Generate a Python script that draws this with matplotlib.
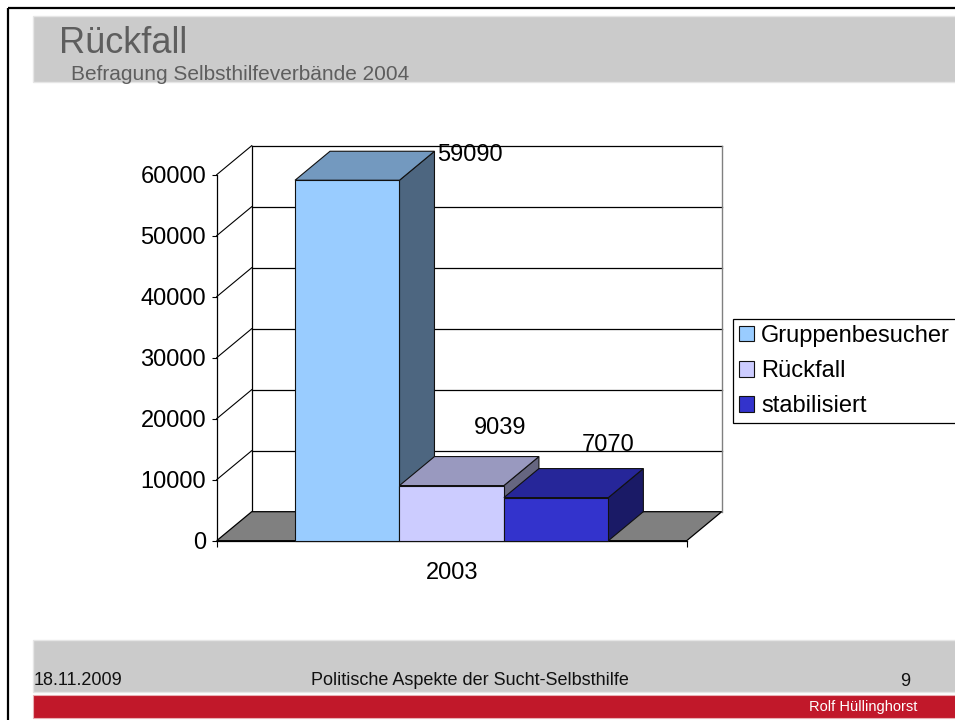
import numpy as np
import matplotlib
matplotlib.use('Agg')
import matplotlib.pyplot as plt
from matplotlib.patches import Polygon, Rectangle, Patch

plt.rcParams['font.family'] = ['Liberation Sans', 'DejaVu Sans']

# --- chart data ---
category = '2003'
series = ['Gruppenbesucher', 'Rückfall', 'stabilisiert']
values = [59090, 9039, 7070]
y_ticks = [0, 10000, 20000, 30000, 40000, 50000, 60000]
y_tick_labels = ['0', '10000', '20000', '30000', '40000', '50000', '60000']

# colours of the three faces of each bar (front, top, side)
front_colors = ['#99CCFF', '#CCCCFF', '#3333CC']
top_colors = ['#7399BF', '#9999BF', '#262699']
side_colors = ['#4D6680', '#666680', '#1A1A66']

# value label offsets from the back-top centre of each bar (pixels)
label_offsets = [(88, -10), (13, 23), (17, 18)]

# --- slide text ---
title = 'Rückfall'
subtitle = 'Befragung Selbsthilfeverbände 2004'
footer_date = '18.11.2009'
footer_title = 'Politische Aspekte der Sucht-Selbsthilfe'
page_no = '9'
author = 'Rolf Hüllinghorst'

W, H = 955, 720
DEPTH = np.array([35.0, 29.0])  # oblique depth in pixels (right, up)
FS = 17

fig = plt.figure(figsize=(W / 100, H / 100), dpi=100)

# slide background, laid out in pixel units
bg = fig.add_axes([0, 0, 1, 1], zorder=0)
bg.set_xlim(0, W)
bg.set_ylim(H, 0)
bg.axis('off')

bg.add_patch(Rectangle((32.7, 16), W, 66, facecolor='#CBCBCB', edgecolor='#E6E6E6', lw=1))
bg.add_patch(Rectangle((32.7, 640), W, 52, facecolor='#CBCBCB', edgecolor='#E6E6E6', lw=1))
bg.add_patch(Rectangle((32.7, 695), W, 23.3, facecolor='#C1182A', edgecolor='#E8B0B5', lw=0.8))
bg.plot([8, W], [8, 8], color='black', lw=1.6, solid_capstyle='butt')
bg.plot([8, 8], [8, H], color='black', lw=1.6, solid_capstyle='butt')

bg.text(59, 53, title, fontsize=26, color='#5E5E5E', va='baseline', ha='left')
bg.text(71, 80, subtitle, fontsize=15, color='#5E5E5E', va='baseline', ha='left')
bg.text(34, 685, footer_date, fontsize=13, color='#111111', va='baseline', ha='left')
bg.text(311, 685, footer_title, fontsize=13, color='#111111', va='baseline', ha='left')
bg.text(910, 686, page_no, fontsize=13, color='#111111', va='baseline', ha='right')
bg.text(917, 711.5, author, fontsize=10.5, color='white', va='baseline', ha='right')

# front plane of the 3d chart
ax = fig.add_axes([216.7 / W, 1 - 540.7 / H, 470 / W, 366 / H], zorder=1)
ax.patch.set_visible(False)
ax.set_xlim(-0.5, 0.5)
ax.set_ylim(y_ticks[0], y_ticks[-1])

# depth expressed in data units
inv = ax.transData.inverted()
p0 = ax.transData.transform((0, 0))
ddx, ddy = inv.transform(p0 + DEPTH) - inv.transform(p0)
x0, x1 = ax.get_xlim()

# floor
ax.add_patch(Polygon([(x0, 0), (x1, 0), (x1 + ddx, ddy), (x0 + ddx, ddy)], closed=True,
                     facecolor='#808080', edgecolor='black', lw=0.9, zorder=1.5, clip_on=False))

# back wall gridlines and left wall diagonals
for v in y_ticks[1:]:
    ax.plot([x0 + ddx, x1 + ddx], [v + ddy, v + ddy], color='black', lw=0.9, zorder=1, clip_on=False)
    ax.plot([x0, x0 + ddx], [v, v + ddy], color='black', lw=0.8, zorder=1, clip_on=False)
ax.plot([x0 + ddx, x0 + ddx], [ddy, y_ticks[-1] + ddy], color='black', lw=0.9, zorder=1, clip_on=False)
ax.plot([x1 + ddx, x1 + ddx], [ddy, y_ticks[-1] + ddy], color='#808080', lw=1.0, zorder=1, clip_on=False)

# bars
n = len(values)
w = 1.0 / (n + 1.5)
centers = (np.arange(n) - (n - 1) / 2) * w
for i, (c, h) in enumerate(zip(centers, values)):
    bl, br = c - w / 2, c + w / 2
    z = 3 + i
    ax.add_patch(Polygon([(br, 0), (br + ddx, ddy), (br + ddx, h + ddy), (br, h)], closed=True,
                         facecolor=side_colors[i], edgecolor='#111111', lw=0.8, zorder=z, clip_on=False))
    ax.add_patch(Polygon([(bl, h), (br, h), (br + ddx, h + ddy), (bl + ddx, h + ddy)], closed=True,
                         facecolor=top_colors[i], edgecolor='#111111', lw=0.8, zorder=z, clip_on=False))
    ax.add_patch(Rectangle((bl, 0), w, h, facecolor=front_colors[i], edgecolor='#111111',
                           lw=0.8, zorder=z + 0.1, clip_on=False))
    ax.annotate(str(h), xy=(c + ddx, h + ddy), xytext=label_offsets[i], textcoords='offset pixels',
                ha='center', va='baseline', fontsize=FS, color='black', zorder=10,
                annotation_clip=False)

# axes: front spines and ticks
for s in ['top', 'right']:
    ax.spines[s].set_visible(False)
for s in ['left', 'bottom']:
    ax.spines[s].set_linewidth(0.9)
    ax.spines[s].set_zorder(2.5)
ax.set_yticks(y_ticks)
ax.set_yticklabels(y_tick_labels, fontsize=FS)
ax.tick_params(axis='y', direction='out', length=3.6, width=0.8, pad=4)
ax.set_xticks([0])
ax.set_xticklabels([category], fontsize=FS)
ax.tick_params(axis='x', which='major', length=0, pad=15)
ax.set_xticks([x0, x1], minor=True)
ax.tick_params(axis='x', which='minor', direction='out', length=4.5, width=0.8)

# legend
handles = [Patch(facecolor=front_colors[i], edgecolor='#111111', lw=0.8, label=series[i]) for i in range(n)]
leg = ax.legend(handles=handles, loc='upper left', bbox_to_anchor=(733.3 / W, 1 - 319.3 / H),
                bbox_transform=fig.transFigure, fontsize=FS, frameon=True, fancybox=False,
                shadow=False, framealpha=1, edgecolor='black', borderpad=0.24, borderaxespad=0,
                handlelength=0.64, handleheight=0.64, handletextpad=0.3, labelspacing=0.56)
leg.get_frame().set_linewidth(0.9)

fig.savefig('out.png', dpi=100)
